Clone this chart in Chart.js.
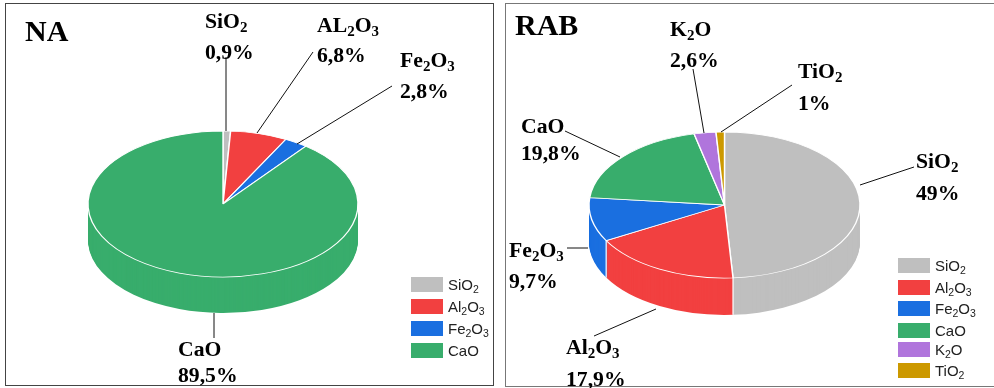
<!DOCTYPE html>
<html>
<head>
<meta charset="utf-8">
<script src="https://cdn.jsdelivr.net/npm/chart.js@4"></script>
<style>
    html, body { margin: 0; padding: 0; background: #fff; overflow: hidden; }
    #page { position: relative; width: 994px; height: 388px; overflow: hidden; }
    .panel { position: absolute; box-sizing: border-box; }
    #panelNa { left: 5px; top: 3px; width: 489px; height: 383px; border: 1.5px solid #444; }
    #panelRab { left: 505px; top: 3px; width: 489px; height: 384px; border: 1.5px solid #777; border-right: 0; }
    canvas { position: absolute; top: 0; }
    .txt { position: absolute; white-space: nowrap; line-height: 24px; height: 24px;
           font-family: "Liberation Serif", serif; font-weight: bold; font-size: 21.7px; color: #000; }
    .title { font-size: 30px; }
    .txt sub { font-size: 15px; line-height: 0; vertical-align: -4px; }
    .swatch { position: absolute; width: 32px; height: 15px; box-shadow: 0 0 1px 1px rgba(255,255,255,.5); }
    .leg { position: absolute; white-space: nowrap; line-height: 18px;
           font-family: "Liberation Sans", sans-serif; font-size: 15px; color: #222; }
    .leg sub { font-size: 10.5px; line-height: 0; vertical-align: -3px; }
</style>
</head>
<body>
<div id="page">
    <div class="panel" id="panelNa"></div>
    <div class="panel" id="panelRab"></div>
    <canvas id="chartNa" width="497" height="388" style="left:0;width:497px;height:388px"></canvas>
    <canvas id="chartRab" width="497" height="388" style="left:497px;width:497px;height:388px"></canvas>
</div>
<script>
const naCategories = ['SiO2', 'Al2O3', 'Fe2O3', 'CaO'];
const naCalloutNames = ['SiO2', 'AL2O3', 'Fe2O3', 'CaO'];
const naValues = [0.9, 6.8, 2.8, 89.5];
const naColors = ['#bfbfbf', '#f24040', '#1a6fe0', '#38ad6c'];

const rabCategories = ['SiO2', 'Al2O3', 'Fe2O3', 'CaO', 'K2O', 'TiO2'];
const rabValues = [49, 17.9, 9.7, 19.8, 2.6, 1];
const rabColors = ['#bfbfbf', '#f24040', '#1a6fe0', '#38ad6c', '#b075dc', '#cc9900'];

// posiciones de rotulos: x, linea base del nombre, linea base del valor
const naLabelPos = [[205, 27, 58], [317, 31, 61], [400, 66, 97], [178, 355, 381]];
const rabLabelPos = [[916, 167, 199], [566, 353, 385], [509, 256, 287], [521, 132, 159], [670, 35, 66], [798, 77, 109]];

// lineas guia, en pixeles de la pagina
const naLeaders = [[226, 57, 226, 131], [313, 52, 257, 133], [392, 86, 297, 144], [214, 313, 214, 338]];
const rabLeaders = [[860, 185, 914, 167], [656, 309, 594, 336], [588, 248, 567, 248], [620, 157, 565, 131], [704, 133, 693, 69], [721, 132, 792, 85]];

const page = document.getElementById('page');

function withSubs(name) {
    return name.replace(/(\d)/g, '<sub>$1</sub>');
}

function addText(cls, x, baseline, html, ascent) {
    const el = document.createElement('div');
    el.className = cls;
    el.style.left = x + 'px';
    el.style.top = (baseline - ascent) + 'px';
    el.innerHTML = html;
    page.appendChild(el);
}

function formatPct(v) {
    return String(v).replace('.', ',') + '%';
}

// Chart.js solo dibuja circulos: se aplasta el contexto y se apilan capas para el canto
function tiltPlugin(cfg) {
    const squash = cfg.ry / cfg.rx;

    function tilt(ctx, arc, dy) {
        ctx.translate(0, cfg.cy + dy);
        ctx.scale(1, squash);
        ctx.translate(0, -arc.y);
    }

    return {
        id: 'tilt',
        beforeDatasetsDraw(chart) {
            const ctx = chart.ctx;
            const arcs = chart.getDatasetMeta(0).data;
            for (let d = cfg.depth; d > 0; d--) {
                ctx.save();
                tilt(ctx, arcs[0], d);
                arcs.forEach(a => {
                    const bw = a.options.borderWidth;
                    a.options.borderWidth = 0;
                    a.draw(ctx);
                    a.options.borderWidth = bw;
                });
                ctx.restore();
            }
            // costuras blancas del canto frontal
            ctx.save();
            ctx.strokeStyle = '#fff';
            ctx.lineWidth = 1.2;
            arcs.forEach(a => {
                if (Math.sin(a.startAngle) <= 0.02) return;
                const x = a.x + a.outerRadius * Math.cos(a.startAngle);
                const y = cfg.cy + cfg.ry * Math.sin(a.startAngle);
                ctx.beginPath();
                ctx.moveTo(x, y);
                ctx.lineTo(x, y + cfg.depth);
                ctx.stroke();
            });
            ctx.restore();
            ctx.save();
            tilt(ctx, arcs[0], 0);
        },
        afterDatasetsDraw(chart) {
            chart.ctx.restore();
        },
        afterDraw(chart) {
            const ctx = chart.ctx;
            ctx.save();
            ctx.strokeStyle = '#111';
            ctx.lineWidth = 1;
            cfg.leaders.forEach(l => {
                ctx.beginPath();
                ctx.moveTo(l[0] - cfg.offsetX, l[1]);
                ctx.lineTo(l[2] - cfg.offsetX, l[3]);
                ctx.stroke();
            });
            ctx.restore();
        }
    };
}

function makePie(id, categories, values, colors, cfg) {
    return new Chart(document.getElementById(id), {
        type: 'pie',
        data: {
            labels: categories,
            datasets: [{
                data: values,
                backgroundColor: colors,
                borderColor: '#fff',
                borderWidth: 1.4,
                radius: cfg.rx,
                clip: false
            }]
        },
        options: {
            responsive: false,
            animation: false,
            layout: { padding: { right: cfg.paddingRight } },
            plugins: { legend: { display: false }, tooltip: { enabled: false } }
        },
        plugins: [tiltPlugin(cfg)]
    });
}

makePie('chartNa', naCategories, naValues, naColors,
    { rx: 135, ry: 73, cy: 204, depth: 36, paddingRight: 51, offsetX: 0, leaders: naLeaders });
makePie('chartRab', rabCategories, rabValues, rabColors,
    { rx: 135.5, ry: 73, cy: 205, depth: 37, paddingRight: 42, offsetX: 497, leaders: rabLeaders });

addText('txt title', 25, 40, 'NA', 21);
addText('txt title', 515, 34, 'RAB', 21);

naCalloutNames.forEach((name, i) => {
    const p = naLabelPos[i];
    addText('txt', p[0], p[1], withSubs(name), 18);
    addText('txt', p[0], p[2], formatPct(naValues[i]), 18);
});
rabCategories.forEach((name, i) => {
    const p = rabLabelPos[i];
    addText('txt', p[0], p[1], withSubs(name), 18);
    addText('txt', p[0], p[2], formatPct(rabValues[i]), 18);
});

// leyendas en HTML para poder usar subindices
const naLegendTops = [277, 299, 321, 343];
const rabLegendTops = [258, 280, 301, 323, 342, 363];

function addLegend(categories, colors, tops, x) {
    categories.forEach((name, i) => {
        const sw = document.createElement('div');
        sw.className = 'swatch';
        sw.style.cssText = `left:${x}px;top:${tops[i]}px;background:${colors[i]}`;
        page.appendChild(sw);
        const t = document.createElement('div');
        t.className = 'leg';
        t.style.cssText = `left:${x + 37}px;top:${tops[i] - 1}px`;
        t.innerHTML = withSubs(name);
        page.appendChild(t);
    });
}
addLegend(naCategories, naColors, naLegendTops, 411);
addLegend(rabCategories, rabColors, rabLegendTops, 898);
</script>
</body>
</html>
